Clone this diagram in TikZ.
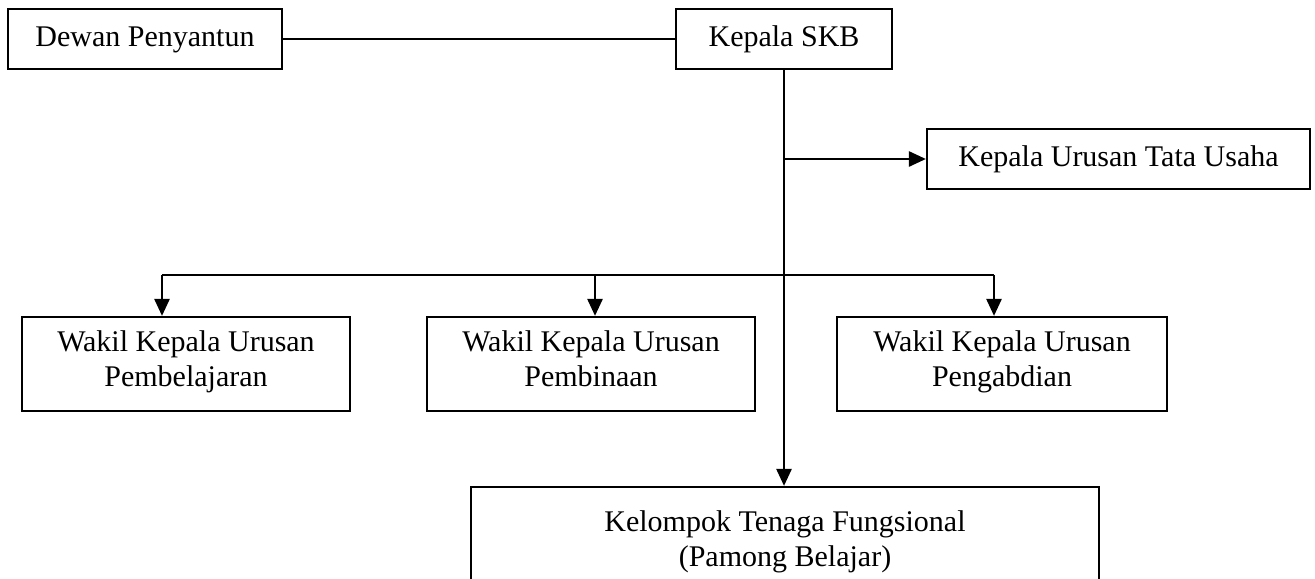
\documentclass[tikz,border=0pt]{standalone}
\usepackage{fontspec}
\setmainfont{Liberation Serif}
\usetikzlibrary{arrows.meta}

\begin{document}
\begin{tikzpicture}[x=0.5pt,y=-0.5pt,
    box/.style={draw, line width=1.1pt, inner sep=0pt, align=center, font=\fontsize{15}{17.5}\selectfont,
        execute at begin node=\strut, execute at end node=\strut},
    link/.style={line width=1.3pt},
    arr/.style={line width=1.3pt, -{Triangle[length=8.5pt,width=7.5pt]}}]
    \useasboundingbox (0,0) rectangle (1315,578);
    \clip (0,0) rectangle (1315,578);

    \node[box, minimum width=137pt, minimum height=30pt] (DP) at (145,39) {Dewan Penyantun};
    \node[box, minimum width=108pt, minimum height=30pt] (KS) at (784,39) {Kepala SKB};
    \node[box, minimum width=191.5pt, minimum height=30pt] (TU) at (1118.5,159) {Kepala Urusan Tata Usaha};
    \node[box, minimum width=164pt, minimum height=47pt] (W1) at (186,364) {Wakil Kepala Urusan\\Pembelajaran};
    \node[box, minimum width=164pt, minimum height=47pt] (W2) at (591,364) {Wakil Kepala Urusan\\Pembinaan};
    \node[box, minimum width=165pt, minimum height=47pt] (W3) at (1002,364) {Wakil Kepala Urusan\\Pengabdian};
    \node[box, minimum width=314pt, minimum height=56.5pt] (KF) at (785,543.5) {Kelompok Tenaga Fungsional\\(Pamong Belajar)};

    \coordinate (H1) at (162,275);
    \coordinate (H2) at (595,275);
    \coordinate (H3) at (994,275);

    \draw[link] (DP) -- (KS);
    \draw[arr] (KS) -- (KS |- KF.north);
    \draw[arr] (KS |- TU) -- (TU);
    \draw[link] (H1) -- (H3);
    \draw[arr] (H1) -- (H1 |- W1.north);
    \draw[arr] (H2) -- (H2 |- W2.north);
    \draw[arr] (H3) -- (H3 |- W3.north);

\end{tikzpicture}
\end{document}
